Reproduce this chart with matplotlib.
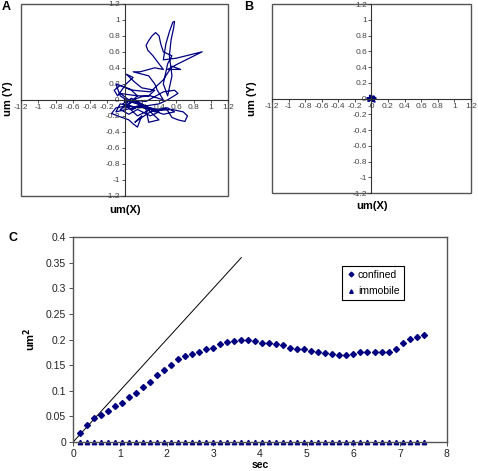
import numpy as np
import matplotlib.pyplot as plt
from matplotlib.patches import Rectangle

plt.rcParams['font.family'] = ['Liberation Sans', 'DejaVu Sans']

# panel A: trajectory of confined particle (um)
traj_x = [0.0, 0.05, 0.15, 0.08, -0.05, -0.12, -0.08, 0.02, 0.1, 0.02, 0.12, 0.2, 0.35, 0.28,
          0.15, -0.05, 0.05, 0.25, 0.45, 0.58, 0.62, 0.5, 0.4, 0.22, 0.1, -0.1, -0.05, 0.05,
          0.3, 0.42, 0.55, 0.68, 0.73, 0.7, 0.62, 0.55, 0.48, 0.38, 0.3, 0.2, 0.12, 0.2, 0.15,
          0.1, 0.05, -0.08, -0.15, -0.1, 0.0, 0.1, 0.2, 0.35, 0.4, 0.28, 0.25, 0.18, 0.1, 0.2,
          0.3, 0.45, 0.38, 0.35, 0.28, 0.1, 0.18, 0.35, 0.45, 0.4, 0.33, 0.27, 0.25, 0.28,
          0.32, 0.36, 0.4, 0.42, 0.45, 0.55, 0.5, 0.45, 0.5, 0.55, 0.52, 0.54, 0.57, 0.58,
          0.56, 0.52, 0.48, 0.45, 0.6, 0.9, 0.62, 0.5, 0.65, 0.55, 0.45, 0.3, 0.1, -0.1, -0.05,
          0.05, 0.25, 0.4, 0.3, 0.15, 0.05, -0.05, 0.1, 0.25, 0.35, 0.5, 0.58, 0.45, 0.3, 0.15,
          0.05, -0.02, 0.08, 0.2, 0.12, 0.02, 0.0]
traj_y = [0.0, -0.05, 0.05, 0.12, 0.18, 0.12, 0.05, 0.2, 0.28, 0.32, 0.22, 0.15, 0.12, 0.05,
          0.05, 0.08, 0.0, -0.02, 0.1, 0.12, 0.08, 0.0, -0.05, -0.08, -0.1, -0.15, -0.05, -0.08,
          -0.1, -0.13, -0.12, -0.15, -0.2, -0.27, -0.25, -0.22, -0.1, -0.12, -0.15, -0.22,
          -0.28, -0.2, -0.34, -0.3, -0.25, -0.2, -0.17, -0.1, -0.08, -0.12, -0.05, -0.2, -0.25,
          -0.28, -0.12, -0.05, 0.0, 0.04, 0.05, 0.0, 0.12, 0.2, 0.3, 0.35, 0.35, 0.4, 0.38,
          0.45, 0.55, 0.62, 0.68, 0.74, 0.8, 0.84, 0.8, 0.7, 0.6, 0.55, 0.45, 0.2, 0.05, 0.3,
          0.55, 0.75, 0.9, 0.98, 0.97, 0.85, 0.7, 0.5, 0.52, 0.6, 0.45, 0.38, 0.38, 0.42, 0.25,
          0.1, 0.12, 0.2, 0.05, -0.02, -0.08, -0.15, -0.2, -0.12, -0.18, -0.12, -0.02, -0.08,
          -0.15, -0.1, -0.15, -0.18, -0.12, -0.2, -0.1, -0.05, 0.02, -0.05, -0.1, -0.05, -0.02]

# panel B: immobile particle
imm_x = [0.0, 0.03, -0.03, 0.05, -0.02, 0.02, -0.05, 0.04, 0.0, 0.05, -0.04, 0.01, 0.03, -0.02]
imm_y = [0.0, 0.03, -0.02, 0.0, 0.04, -0.03, 0.01, -0.04, 0.03, 0.01, -0.03, 0.0, -0.01, 0.02]

# panel C: MSD
t = [0.15, 0.3, 0.45, 0.6, 0.75, 0.9, 1.05, 1.2, 1.35, 1.5, 1.65, 1.8, 1.95, 2.1, 2.25, 2.4,
     2.55, 2.7, 2.85, 3.0, 3.15, 3.3, 3.45, 3.6, 3.75, 3.9, 4.05, 4.2, 4.35, 4.5, 4.65, 4.8,
     4.95, 5.1, 5.25, 5.4, 5.55, 5.7, 5.85, 6.0, 6.15, 6.3, 6.45, 6.6, 6.75, 6.9, 7.05, 7.2,
     7.35, 7.5]
confined = [0.018, 0.033, 0.046, 0.053, 0.061, 0.070, 0.076, 0.087, 0.096, 0.107, 0.117,
            0.130, 0.140, 0.150, 0.162, 0.167, 0.171, 0.175, 0.181, 0.184, 0.191, 0.195,
            0.198, 0.199, 0.199, 0.197, 0.194, 0.193, 0.192, 0.189, 0.184, 0.182, 0.181,
            0.178, 0.175, 0.173, 0.171, 0.169, 0.169, 0.172, 0.175, 0.176, 0.176, 0.175,
            0.175, 0.182, 0.193, 0.201, 0.205, 0.209]
immobile = [0.0] * len(t)
free_t = [0.0, 3.6]
free_msd = [0.0, 0.36]

navy = '#000080'
ticks_xy = np.round(np.arange(-1.2, 1.21, 0.2), 1)
tick_labels = ['%g' % v for v in ticks_xy]

fig = plt.figure(figsize=(4.78, 4.71), dpi=100)


def cross_axes(ax):
    ax.set_xlim(-1.2, 1.2)
    ax.set_ylim(-1.2, 1.2)
    for s in ['top', 'right']:
        ax.spines[s].set_visible(False)
    ax.spines['left'].set_position('zero')
    ax.spines['bottom'].set_position('zero')
    ax.spines['left'].set_color('#333333')
    ax.spines['bottom'].set_color('#333333')
    ax.set_xticks(ticks_xy)
    ax.set_xticklabels(tick_labels)
    ax.set_yticks(ticks_xy)
    ax.set_yticklabels(tick_labels)
    ax.tick_params(direction='out', length=2, width=0.6, labelsize=6, pad=1,
                   colors='#333333', labelcolor='#444444')
    ax.add_patch(Rectangle((0, 0), 1, 1, transform=ax.transAxes, fill=False,
                           edgecolor='#555555', lw=1.0, clip_on=False))


axA = fig.add_axes([0.044, 0.584, 0.433, 0.408])
cross_axes(axA)
axA.plot(traj_x, traj_y, color=navy, lw=0.9)
fig.text(0.017, 0.79, 'um (Y)', rotation=90, ha='center', va='center', fontsize=8, fontweight='bold')
fig.text(0.262, 0.554, 'um(X)', ha='center', va='center', fontsize=8, fontweight='bold')
fig.text(0.004, 0.985, 'A', ha='left', va='center', fontsize=9, fontweight='bold')

axB = fig.add_axes([0.569, 0.590, 0.416, 0.401])
cross_axes(axB)
axB.plot(imm_x, imm_y, color=navy, lw=1.4)
fig.text(0.527, 0.79, 'um (Y)', rotation=90, ha='center', va='center', fontsize=8, fontweight='bold')
fig.text(0.778, 0.563, 'um(X)', ha='center', va='center', fontsize=8, fontweight='bold')
fig.text(0.51, 0.985, 'B', ha='left', va='center', fontsize=9, fontweight='bold')

axC = fig.add_axes([0.153, 0.0616, 0.782, 0.435])
axC.plot(free_t, free_msd, color='black', lw=0.7)
axC.plot(t, confined, 'D', color=navy, ms=3.0, label='confined')
axC.plot(t, immobile, '^', color=navy, ms=3.2, label='immobile', clip_on=False)
axC.set_xlim(0, 8)
axC.set_ylim(0, 0.4)
axC.set_xticks(range(0, 9))
axC.set_yticks(np.round(np.arange(0, 0.401, 0.05), 2))
axC.set_yticklabels(['0', '0.05', '0.1', '0.15', '0.2', '0.25', '0.3', '0.35', '0.4'])
axC.tick_params(direction='out', length=3, width=0.6, labelsize=7.5, pad=2,
                colors='#333333', labelcolor='#222222')
for s in axC.spines.values():
    s.set_color('#555555')
    s.set_linewidth(1.0)
axC.set_xlabel('sec', fontsize=7.5, fontweight='bold', labelpad=1)
axC.set_ylabel('um$^\\mathbf{2}$', fontsize=8, fontweight='bold', labelpad=6)
leg = axC.legend(loc='upper left', bbox_to_anchor=(0.706, 0.885), fontsize=7.5,
                 fancybox=False, edgecolor='black', framealpha=1, handlelength=0.8,
                 handletextpad=0.3, borderpad=0.4, labelspacing=0.6, markerscale=0.8)
leg.get_frame().set_linewidth(0.8)
fig.text(0.018, 0.495, 'C', ha='left', va='center', fontsize=9, fontweight='bold')

fig.savefig('out.png', dpi=100)
